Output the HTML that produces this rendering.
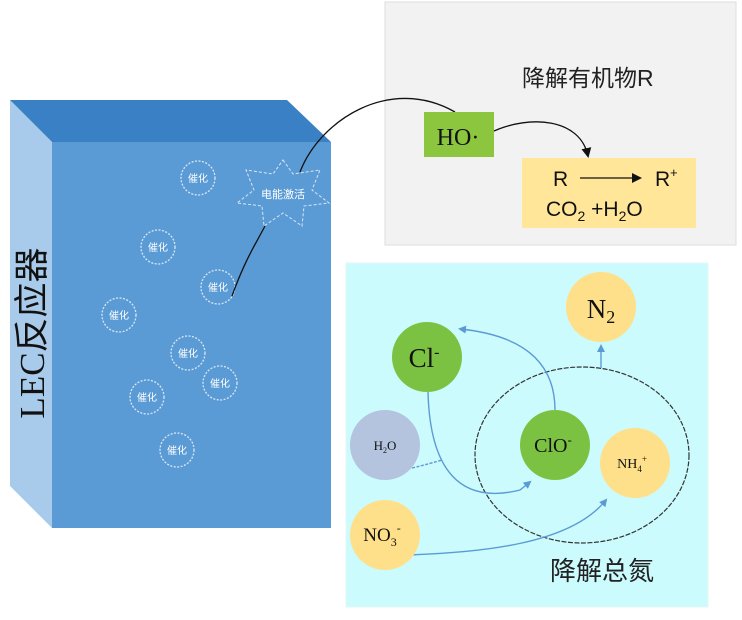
<!DOCTYPE html>
<html><head><meta charset="utf-8"><style>
body{margin:0;width:742px;height:615px;background:#fff;overflow:hidden}
.sf{font-family:"Liberation Serif","Noto Serif CJK SC",serif}
.cn{font-family:"Liberation Sans","Noto Sans CJK SC",sans-serif}
</style></head><body>
<svg width="742" height="615" xmlns="http://www.w3.org/2000/svg">
<defs>
<marker id="ab" markerWidth="8" markerHeight="8" refX="6" refY="4" orient="auto" markerUnits="userSpaceOnUse"><path d="M0,0 L8,4 L0,8z" fill="#5b9bd5"/></marker>
<marker id="ak" markerWidth="10" markerHeight="10" refX="8" refY="5" orient="auto" markerUnits="userSpaceOnUse"><path d="M0,0 L10,5 L0,10z" fill="#111"/></marker>
</defs>
<polygon points="10,100 52,142 52,528 10,486" fill="#a9cbeb"/>
<polygon points="10,100 287,100 331,142 52,142" fill="#3a80c4"/>
<rect x="52" y="142" width="279" height="386" fill="#5b9bd5"/>
<text class="sf" transform="translate(44,333) rotate(-90)" text-anchor="middle" font-size="35" fill="#111">LEC<tspan class="cn">反应器</tspan></text>
<g fill="none" stroke="#d8e6f2" stroke-width="1.3" stroke-dasharray="2,1.5">
<circle cx="198" cy="178" r="17"/><circle cx="158" cy="247" r="17"/><circle cx="218" cy="287" r="17"/>
<circle cx="119" cy="315" r="17"/><circle cx="188" cy="353" r="17"/><circle cx="220" cy="383" r="17"/>
<circle cx="147" cy="397" r="17"/><circle cx="177" cy="450" r="17"/>
</g>
<g fill="#fff" font-size="10" text-anchor="middle" class="cn">
<text x="198" y="182">催化</text><text x="158" y="251">催化</text><text x="218" y="291">催化</text>
<text x="119" y="319">催化</text><text x="188" y="357">催化</text><text x="220" y="387">催化</text>
<text x="147" y="401">催化</text><text x="177" y="454">催化</text>
</g>
<polygon points="283,160 293,174 320,170 312,190 329,203 304,206 302,226 283,213 264,226 262,206 237,203 254,190 246,170 273,174" fill="none" stroke="#d8e6f2" stroke-dasharray="3,2"/>
<text class="cn" x="283" y="198" text-anchor="middle" font-size="11" fill="#fff">电能激活</text>
<path d="M232,296 C245,260 255,245 265,226" fill="none" stroke="#111" stroke-width="1.3"/>
<rect x="385" y="2" width="351" height="243" fill="#f2f2f2" stroke="#ddd"/>
<text class="cn" x="522" y="86" font-size="23" fill="#222">降解有机物R</text>
<path d="M300,172 C320,120 390,75 455,112" fill="none" stroke="#111" stroke-width="1.3"/>
<rect x="424" y="112" width="70" height="45" fill="#8cc63f"/>
<text class="sf" x="458" y="145" text-anchor="middle" font-size="24" fill="#111">HO·</text>
<path d="M494,131 C530,115 580,118 588,156" fill="none" stroke="#111" stroke-width="1.3" marker-end="url(#ak)"/>
<rect x="522" y="158" width="174" height="70" fill="#ffe699"/>
<g class="cn" font-size="21" fill="#111">
<text x="553" y="186">R</text>
<line x1="580" y1="178" x2="640" y2="178" stroke="#111" stroke-width="1.3" marker-end="url(#ak)"/>
<text x="655" y="186">R</text><text x="670" y="177" font-size="13">+</text>
<text x="546" y="216">CO<tspan font-size="14" dy="5">2</tspan><tspan dy="-5"> +H</tspan><tspan font-size="14" dy="5">2</tspan><tspan dy="-5">O</tspan></text>
</g>
<rect x="346" y="263" width="362" height="344" fill="#ccfbfd" stroke="#e4f4f6"/>
<ellipse cx="582" cy="455" rx="107" ry="88" fill="none" stroke="#333" stroke-width="1.2" stroke-dasharray="5,1.5"/>
<g fill="none" stroke="#5b9bd5" stroke-width="1.4">
<path d="M555,410 C555,360 520,335 460,329" marker-end="url(#ab)"/>
<path d="M428,392 C430,470 460,505 520,490 L530,482" marker-end="url(#ab)"/>
<path d="M412,468 C425,465 435,462 442,460" stroke-dasharray="3,1.5"/>
<path d="M410,555 C480,552 570,545 606,500" marker-end="url(#ab)"/>
<path d="M601,368 L601,346" marker-end="url(#ab)"/>
</g>
<g class="sf" fill="#111">
<circle cx="601" cy="307" r="35" fill="#ffe08a"/>
<text x="601" y="318" text-anchor="middle" font-size="27">N<tspan font-size="18" dy="5">2</tspan></text>
<circle cx="427" cy="357" r="35" fill="#7cc242"/>
<text x="424" y="367" text-anchor="middle" font-size="27">Cl<tspan font-size="16" dy="-10">-</tspan></text>
<circle cx="385" cy="445" r="35" fill="#b4c4df"/>
<text x="385" y="450" text-anchor="middle" font-size="13">H<tspan font-size="8" dy="3">2</tspan><tspan dy="-3">O</tspan></text>
<circle cx="555" cy="445" r="35" fill="#7cc242"/>
<text x="553" y="452" text-anchor="middle" font-size="20">ClO<tspan font-size="13" dy="-8">-</tspan></text>
<circle cx="635" cy="463" r="35" fill="#ffe08a"/>
<text x="632" y="468" text-anchor="middle" font-size="14">NH<tspan font-size="9" dy="4">4</tspan><tspan font-size="9" dy="-10">+</tspan></text>
<circle cx="385" cy="535" r="35" fill="#ffe08a"/>
<text x="382" y="541" text-anchor="middle" font-size="19">NO<tspan font-size="12" dy="5">3</tspan><tspan font-size="12" dy="-14">-</tspan></text>
</g>
<text class="cn" x="550" y="580" font-size="26" fill="#222">降解总氮</text>
</svg>
</body></html>
